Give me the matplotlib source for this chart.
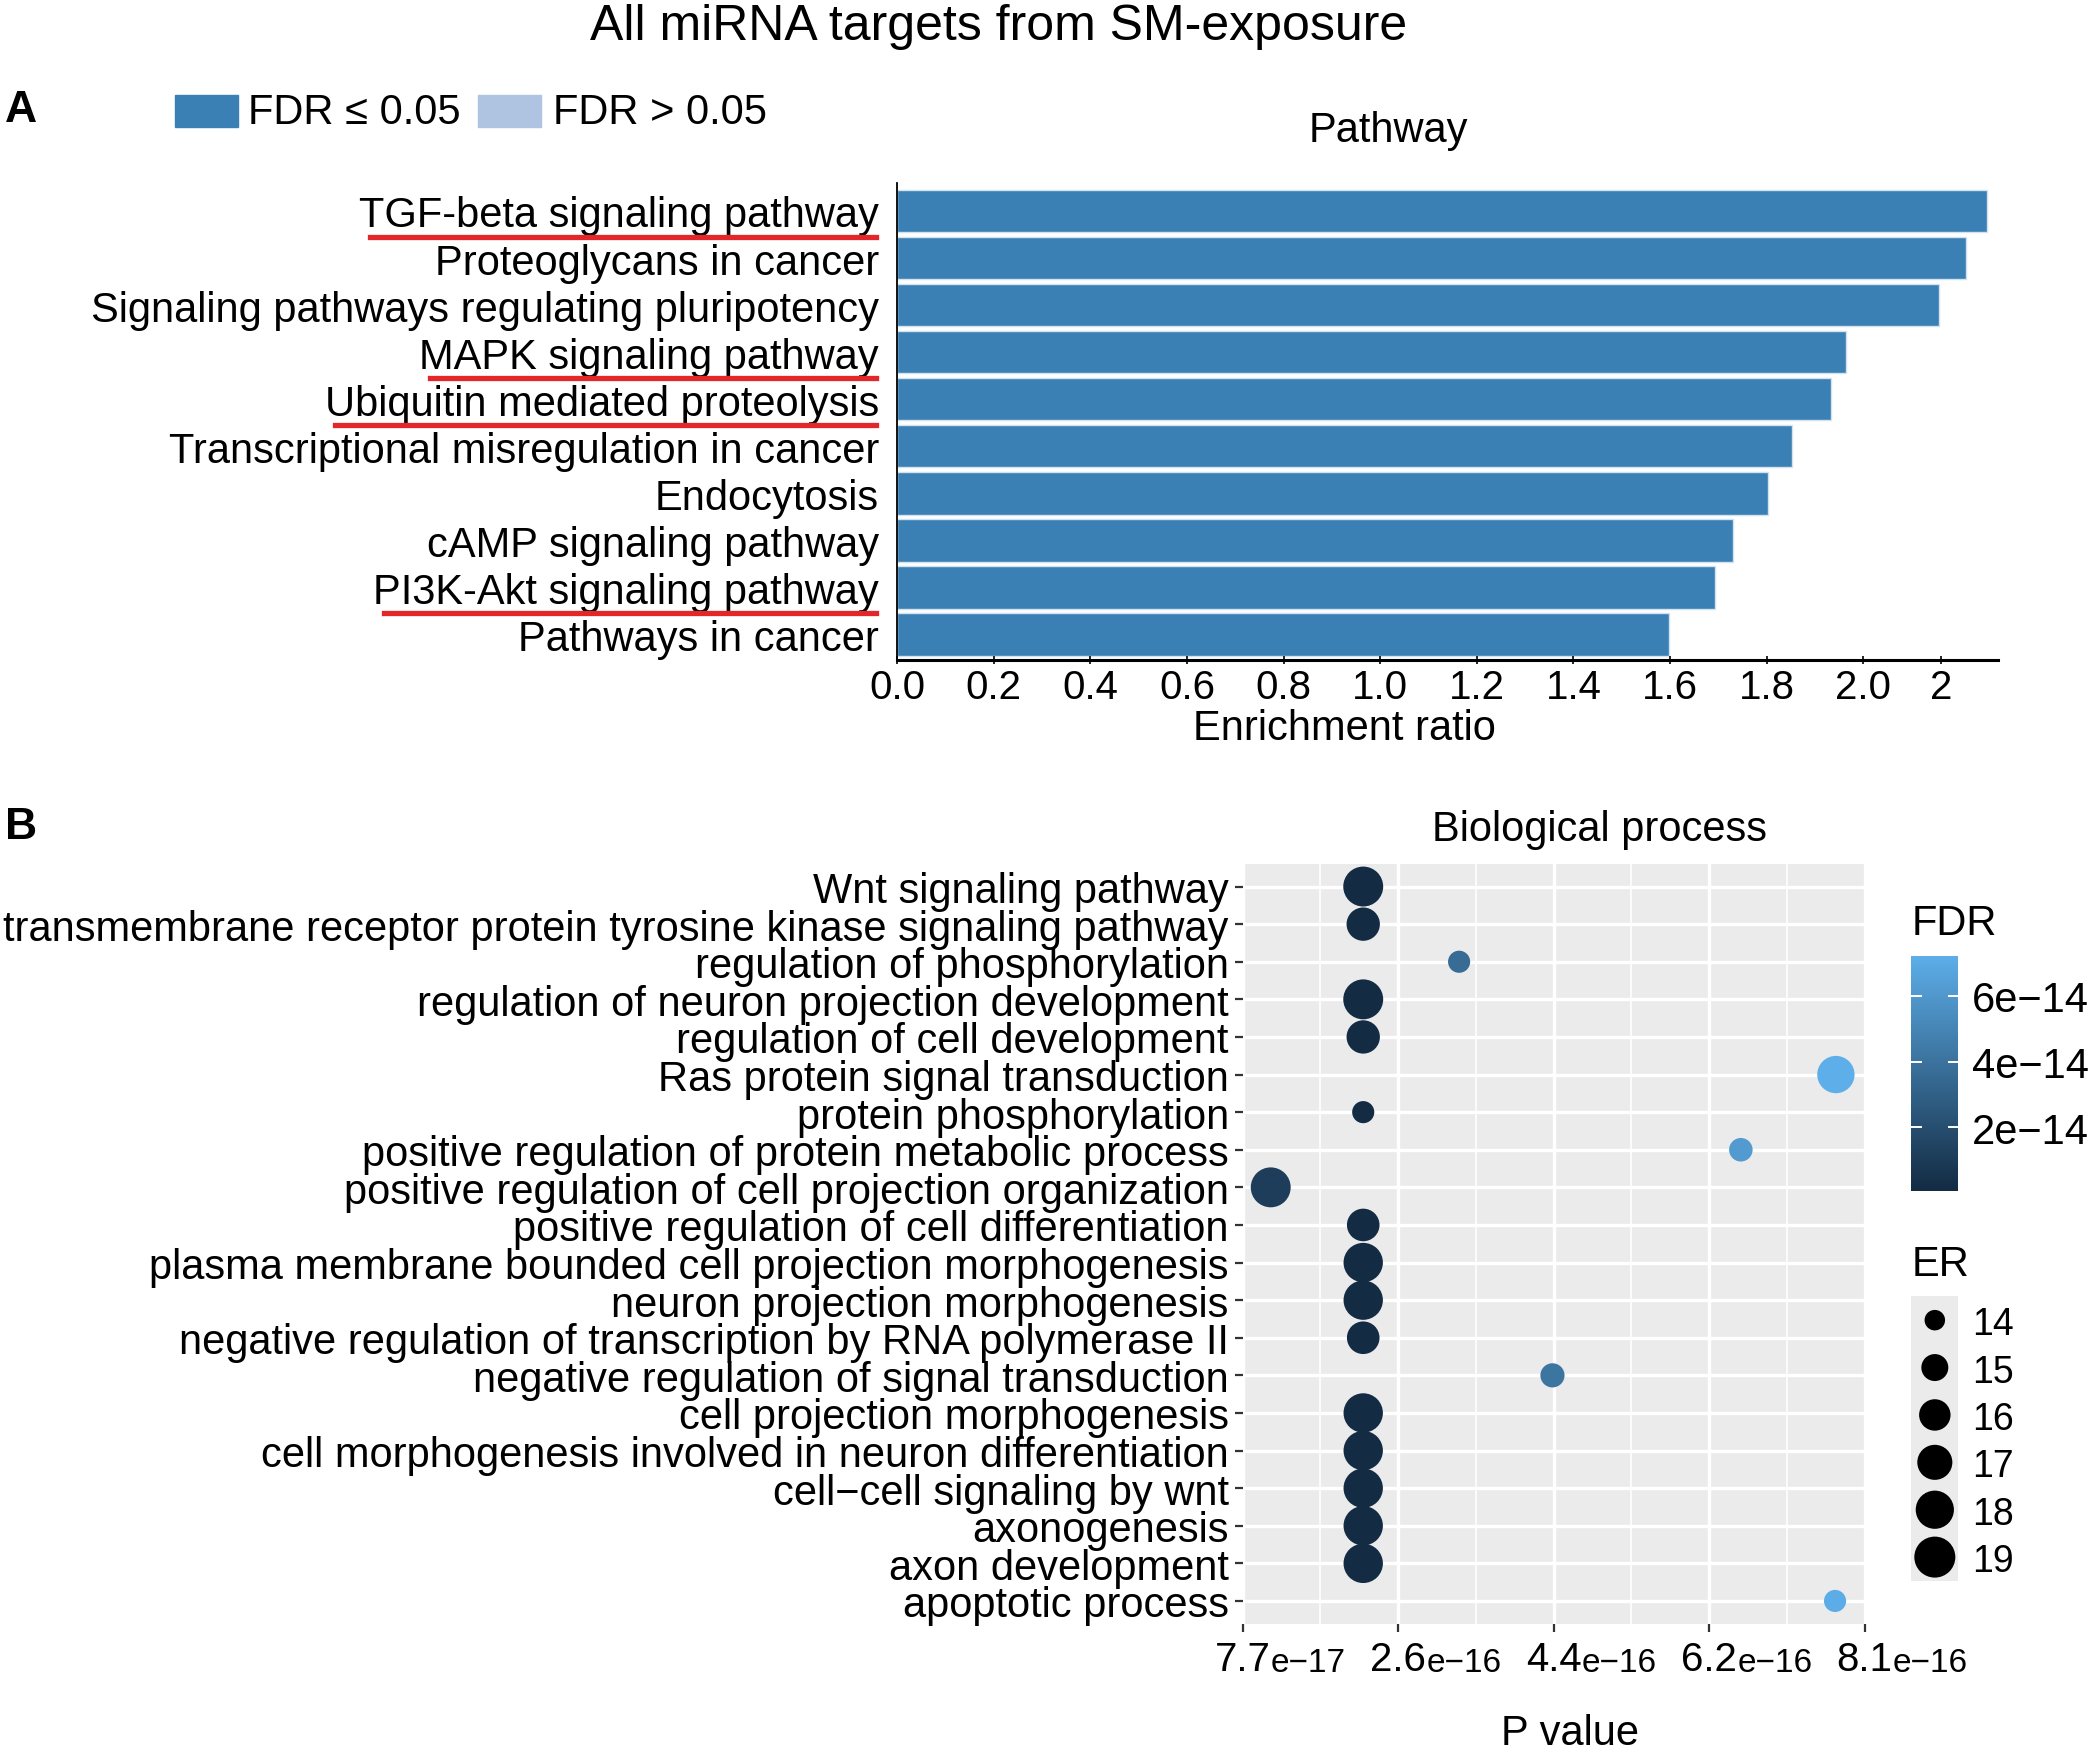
import numpy as np
import matplotlib

matplotlib.use("Agg")
import matplotlib.pyplot as plt
from matplotlib.colors import LinearSegmentedColormap, Normalize
from matplotlib.lines import Line2D
from matplotlib.patches import Rectangle

# ---- panel A data (KEGG pathways) ----
pathways = [
    "TGF-beta signaling pathway",
    "Proteoglycans in cancer",
    "Signaling pathways regulating pluripotency",
    "MAPK signaling pathway",
    "Ubiquitin mediated proteolysis",
    "Transcriptional misregulation in cancer",
    "Endocytosis",
    "cAMP signaling pathway",
    "PI3K-Akt signaling pathway",
    "Pathways in cancer",
]
enrichment = [2.256, 2.213, 2.157, 1.964, 1.933, 1.852, 1.802, 1.731, 1.693, 1.597]
underlined = ["TGF-beta signaling pathway", "MAPK signaling pathway",
              "Ubiquitin mediated proteolysis", "PI3K-Akt signaling pathway"]
er_ticks = [0.0, 0.2, 0.4, 0.6, 0.8, 1.0, 1.2, 1.4, 1.6, 1.8, 2.0, 2.16]
er_ticklabels = ["0.0", "0.2", "0.4", "0.6", "0.8", "1.0", "1.2", "1.4", "1.6", "1.8", "2.0", "2"]

# ---- panel B data (GO biological process) ----
bp_terms = [
    "Wnt signaling pathway",
    "transmembrane receptor protein tyrosine kinase signaling pathway",
    "regulation of phosphorylation",
    "regulation of neuron projection development",
    "regulation of cell development",
    "Ras protein signal transduction",
    "protein phosphorylation",
    "positive regulation of protein metabolic process",
    "positive regulation of cell projection organization",
    "positive regulation of cell differentiation",
    "plasma membrane bounded cell projection morphogenesis",
    "neuron projection morphogenesis",
    "negative regulation of transcription by RNA polymerase II",
    "negative regulation of signal transduction",
    "cell projection morphogenesis",
    "cell morphogenesis involved in neuron differentiation",
    "cell\u2212cell signaling by wnt",
    "axonogenesis",
    "axon development",
    "apoptotic process",
]
pvalue = np.array([2.19, 2.19, 3.32, 2.19, 2.19, 7.76, 2.19, 6.64, 1.10, 2.19,
                   2.19, 2.19, 2.19, 4.42, 2.19, 2.19, 2.19, 2.19, 2.19, 7.75]) * 1e-16
er = np.array([18.6, 16.5, 14.2, 18.6, 16.5, 17.7, 14.2, 14.4, 18.6, 16.3,
               18.4, 18.4, 16.3, 14.5, 18.4, 18.4, 18.4, 18.4, 18.4, 14.2])
fdr = np.array([0.07, 0.07, 3.6, 0.07, 0.07, 7.2, 0.07, 6.1, 1.1, 0.07,
                0.07, 0.07, 0.07, 4.1, 0.07, 0.07, 0.07, 0.07, 0.07, 7.1]) * 1e-14
p_ticks = np.linspace(7.7e-17, 8.1e-16, 5)
p_mant = ["7.7", "2.6", "4.4", "6.2", "8.1"]
p_exp = ["e\u221217", "e\u221216", "e\u221216", "e\u221216", "e\u221216"]
fdr_ticks = [2e-14, 4e-14, 6e-14]
fdr_ticklabels = ["2e\u221214", "4e\u221214", "6e\u221214"]
er_legend = [14, 15, 16, 17, 18, 19]

plt.rcParams["font.family"] = ["Liberation Sans", "DejaVu Sans"]

W, H = 1568.0, 1317.0  # layout measured on a 1568-wide view


def fx(p):
    return p / W


def fy(p):
    return 1.0 - p / H


def box(x0, y0, x1, y1):
    return [fx(x0), fy(y1), fx(x1) - fx(x0), fy(y0) - fy(y1)]


def dot_size(v):
    d = (20.46 + 21.98 * np.sqrt(np.asarray(v) - 13.5)) * 0.41
    return d ** 2


FS = 30

fig = plt.figure(figsize=(20.93, 17.58), dpi=100)
fig.text(fx(748), fy(20), "All miRNA targets from SM-exposure", ha="center", va="center", fontsize=36)

# ---------------- panel A ----------------
fig.text(fx(4), fy(83), "A", ha="left", va="center", fontsize=32, fontweight="bold")
bar_col = "#3a80b4"
light_col = "#aec4e0"
fig.patches.append(Rectangle((fx(131), fy(96)), fx(178) - fx(131), fy(72) - fy(96),
                             transform=fig.transFigure, color=bar_col))
fig.text(fx(186), fy(85), "FDR \u2264 0.05", ha="left", va="center", fontsize=FS)
fig.patches.append(Rectangle((fx(358), fy(96)), fx(405) - fx(358), fy(72) - fy(96),
                             transform=fig.transFigure, color=light_col))
fig.text(fx(414), fy(85), "FDR > 0.05", ha="left", va="center", fontsize=FS)

axA = fig.add_axes(box(672, 138, 1497, 495))
ypos = np.arange(len(pathways))
axA.barh(ypos, enrichment, height=0.9, color=bar_col, edgecolor="#d3e2ef", linewidth=1.0)
axA.set_xlim(0, 2.279)
axA.set_ylim(9.535, -0.59)
axA.set_yticks(ypos)
axA.set_yticklabels(pathways, fontsize=FS)
axA.tick_params(axis="y", length=0, pad=13)
axA.set_xticks(er_ticks)
axA.set_xticklabels(er_ticklabels, fontsize=29)
axA.tick_params(axis="x", direction="inout", length=6, width=1.2, pad=3)
for s in ["top", "right"]:
    axA.spines[s].set_visible(False)
axA.spines["bottom"].set_linewidth(2.2)
axA.spines["left"].set_linewidth(1.3)
fig.text(fx(1040), fy(98), "Pathway", ha="center", va="center", fontsize=FS)
fig.text(fx(1007), fy(546), "Enrichment ratio", ha="center", va="center", fontsize=FS)

# ---------------- panel B ----------------
fig.text(fx(4), fy(620), "B", ha="left", va="center", fontsize=32, fontweight="bold")
fig.text(fx(1198), fy(622), "Biological process", ha="center", va="center", fontsize=FS)

axB = fig.add_axes(box(931, 648, 1397, 1217))
axB.set_facecolor("#EBEBEB")
yb = np.arange(len(bp_terms))
cmap = LinearSegmentedColormap.from_list("gg", ["#132B43", "#5daee9"])
norm = Normalize(vmin=fdr.min(), vmax=fdr.max())
axB.scatter(pvalue, yb, s=dot_size(er), c=fdr, cmap=cmap, norm=norm, linewidths=0, zorder=3)
axB.set_xlim(p_ticks[0], p_ticks[-1])
axB.set_ylim(len(bp_terms) - 1 + 0.6, -0.6)
axB.set_yticks(yb)
axB.set_yticklabels(bp_terms, fontsize=FS)
axB.set_xticks(p_ticks)
axB.set_xticks((p_ticks[:-1] + p_ticks[1:]) / 2, minor=True)
axB.set_xticklabels([""] * len(p_ticks))
axB.tick_params(axis="both", which="major", length=6, width=1.6, color="#333333", pad=4)
axB.tick_params(axis="x", which="minor", length=0)
axB.grid(True, which="major", color="white", linewidth=2.4, zorder=0)
axB.grid(True, which="minor", axis="x", color="white", linewidth=1.2, zorder=0)
axB.set_axisbelow(True)
for s in axB.spines.values():
    s.set_visible(False)

for xt, m, e in zip(p_ticks, p_mant, p_exp):
    t = axB.text(xt, -0.022, m, transform=axB.get_xaxis_transform(), ha="center", va="top",
                 fontsize=29)
    axB.annotate(e, xy=(1.0, 0.0), xycoords=t, ha="left", va="bottom", fontsize=24)
fig.text(fx(1176), fy(1299), "P value", ha="center", va="center", fontsize=FS)

# FDR colour bar
fig.text(fx(1432), fy(692), "FDR", ha="left", va="center", fontsize=FS)
cax = fig.add_axes(box(1432, 717, 1467, 893))
grad = np.linspace(fdr.min(), fdr.max(), 256).reshape(-1, 1)
cax.imshow(grad, cmap=cmap, norm=norm, aspect="auto", origin="lower",
           extent=[0, 1, fdr.min(), fdr.max()])
cax.set_xticks([])
cax.yaxis.tick_right()
cax.set_yticks(fdr_ticks)
cax.set_yticklabels(fdr_ticklabels, fontsize=FS)
cax.tick_params(axis="y", length=0, pad=10)
for s in cax.spines.values():
    s.set_visible(False)
for v in fdr_ticks:
    cax.plot([0, 0.2], [v, v], color="white", lw=1.4)
    cax.plot([0.8, 1], [v, v], color="white", lw=1.4)
cax.set_xlim(0, 1)

# ER size legend
fig.text(fx(1432), fy(948), "ER", ha="left", va="center", fontsize=FS)
kax = fig.add_axes(box(1432, 972, 1467, 1185))
kax.set_facecolor("#EBEBEB")
ky = np.arange(len(er_legend))
kax.scatter(np.full(len(er_legend), 0.5), ky, s=dot_size(er_legend), color="black", linewidths=0)
kax.set_xlim(0, 1)
kax.set_ylim(len(er_legend) - 0.5, -0.5)
kax.set_xticks([])
kax.yaxis.tick_right()
kax.set_yticks(ky)
kax.set_yticklabels([str(v) for v in er_legend], fontsize=27)
kax.tick_params(axis="y", length=0, pad=10)
for s in kax.spines.values():
    s.set_visible(False)

# red underlines under selected pathway labels
fig.canvas.draw()
inv = fig.transFigure.inverted()
for lab in axA.get_yticklabels():
    if lab.get_text() in underlined:
        bb = lab.get_window_extent()
        (x0, y0), (x1, y1) = inv.transform([[bb.x0, bb.y0], [bb.x1, bb.y1]])
        yl = (y0 + y1) / 2 - 16.0 / H
        fig.add_artist(Line2D([x0 + 8 / W, x1 - 2 / W], [yl, yl], transform=fig.transFigure,
                              color="#e3262a", linewidth=3.8))

fig.savefig("out.png", dpi=100)
